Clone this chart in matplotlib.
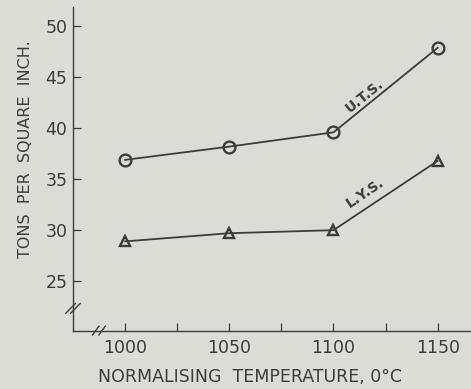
import matplotlib
matplotlib.use("Agg")
import matplotlib.pyplot as plt

temps = [1000, 1050, 1100, 1150]
uts = [36.9, 38.2, 39.6, 47.9]
lys = [28.9, 29.7, 30.0, 36.8]
xticks = [1000, 1025, 1050, 1075, 1100, 1125, 1150]
xticklabels = ["1000", "", "1050", "", "1100", "", "1150"]
yticks = [25, 30, 35, 40, 45, 50]

bg = "#dcdcd7"
ink = "#3c3c3a"

fig = plt.figure(figsize=(4.71, 3.89), dpi=100, facecolor=bg)
ax = fig.add_axes([0.155, 0.149, 0.845, 0.833], facecolor=bg)

ax.plot(temps, uts, color=ink, lw=1.3, marker="o", ms=8.5, mfc="none",
        mec=ink, mew=1.7)
ax.plot(temps, lys, color=ink, lw=1.3, marker="^", ms=7.5, mfc="none",
        mec=ink, mew=1.7)

ax.set_xlim(975, 1166)
ax.set_ylim(20.1, 51.9)
ax.set_xticks(xticks)
ax.set_xticklabels(xticklabels)
ax.set_yticks(yticks)

for s in ["top", "right"]:
    ax.spines[s].set_visible(False)
for s in ["left", "bottom"]:
    ax.spines[s].set_color(ink)
    ax.spines[s].set_linewidth(1.0)

ax.tick_params(direction="in", length=6, width=0.9, color=ink,
               labelcolor=ink, labelsize=12.5, pad=6)
ax.tick_params(axis="y", pad=4)
for lab in ax.get_xticklabels() + ax.get_yticklabels():
    lab.set_fontweight("medium")

ax.set_xlabel("NORMALISING  TEMPERATURE, 0°C", color=ink, fontsize=12.5)
ax.xaxis.label.set_va("center")
ax.xaxis.set_label_coords(0.445, -0.142)
ax.set_ylabel("TONS  PER  SQUARE  INCH.", color=ink, fontsize=11.5)
ax.yaxis.label.set_va("center")
ax.yaxis.set_label_coords(-0.12, 0.56)

ax.text(1115, 43.2, "U.T.S.", rotation=39, color=ink, fontsize=10,
        fontweight="bold", ha="center", va="center")
ax.text(1115, 33.7, "L.Y.S.", rotation=34, color=ink, fontsize=10,
        fontweight="bold", ha="center", va="center")

# axis break marks
kw = dict(color=ink, lw=1.0, clip_on=False, transform=ax.transAxes)
for dx in (-0.012, 0.0):
    ax.plot([-0.012 + dx + 0.006, 0.012 + dx + 0.006], [0.075 - 0.02, 0.075 + 0.01], **kw)
for dx in (-0.008, 0.008):
    ax.plot([0.065 + dx - 0.008, 0.065 + dx + 0.008], [-0.012, 0.015], **kw)

fig.savefig("out.png", dpi=100, facecolor=bg)
